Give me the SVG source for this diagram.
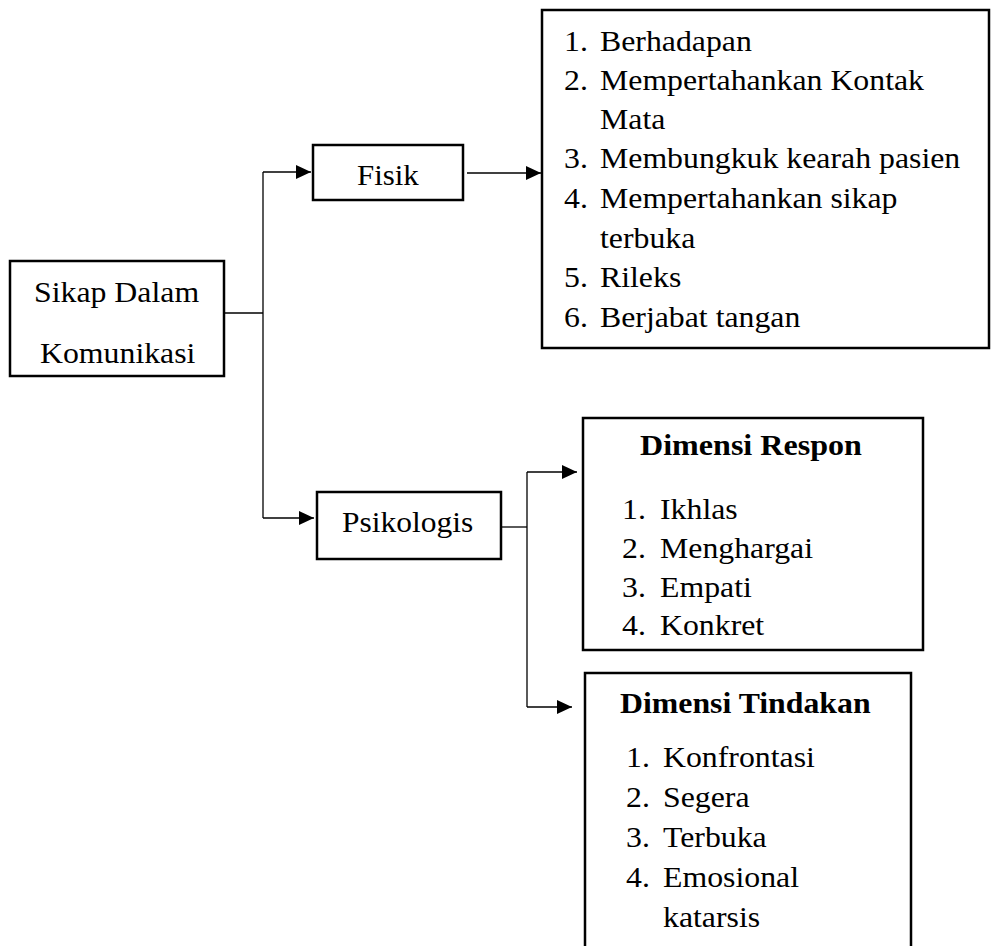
<svg xmlns="http://www.w3.org/2000/svg" width="991" height="946" viewBox="0 0 991 946">
<style>
.box{fill:#fff;stroke:#000;stroke-width:2.5}
.con{fill:none;stroke:#000;stroke-width:1.3}
</style>
<defs>
<marker id="ah" markerWidth="15" markerHeight="14" refX="15" refY="7" orient="auto" markerUnits="userSpaceOnUse">
<path d="M0,0 L15,7 L0,14 Z" fill="#000"/>
</marker>
</defs>
<rect width="991" height="946" fill="#fff"/>
<g id="connectors">
<path class="con" d="M224,313 H263"/>
<path class="con" d="M263,172 V518"/>
<path class="con" d="M263,172 H311" marker-end="url(#ah)"/>
<path class="con" d="M263,518 H314" marker-end="url(#ah)"/>
<path class="con" d="M467,173 H541" marker-end="url(#ah)"/>
<path class="con" d="M502,527 H527"/>
<path class="con" d="M527,472 V707"/>
<path class="con" d="M527,472 H577" marker-end="url(#ah)"/>
<path class="con" d="M527,707 H572" marker-end="url(#ah)"/>
</g>
<g id="sikap">
<rect class="box" x="10" y="261" width="214" height="115"/>
<text font-family="Liberation Serif" font-size="30" transform="translate(34,302) scale(1.06,1)">Sikap Dalam</text>
<text font-family="Liberation Serif" font-size="30" transform="translate(40,363) scale(1.06,1)">Komunikasi</text>
</g>
<g id="fisik">
<rect class="box" x="313" y="145" width="150" height="55"/>
<text font-family="Liberation Serif" font-size="30" transform="translate(357,185) scale(1.03,1)">Fisik</text>
</g>
<g id="fisik-list">
<rect class="box" x="542" y="10" width="447" height="338"/>
<text font-family="Liberation Serif" font-size="30" transform="translate(564,51) scale(1.06,1)">1.</text>
<text font-family="Liberation Serif" font-size="30" transform="translate(600,51) scale(1.06,1)">Berhadapan</text>
<text font-family="Liberation Serif" font-size="30" transform="translate(564,90) scale(1.06,1)">2.</text>
<text font-family="Liberation Serif" font-size="30" transform="translate(600,90) scale(1.06,1)">Mempertahankan Kontak</text>
<text font-family="Liberation Serif" font-size="30" transform="translate(600,129) scale(1.06,1)">Mata</text>
<text font-family="Liberation Serif" font-size="30" transform="translate(564,168) scale(1.06,1)">3.</text>
<text font-family="Liberation Serif" font-size="30" transform="translate(600,168) scale(1.06,1)">Membungkuk kearah pasien</text>
<text font-family="Liberation Serif" font-size="30" transform="translate(564,208) scale(1.06,1)">4.</text>
<text font-family="Liberation Serif" font-size="30" transform="translate(600,208) scale(1.06,1)">Mempertahankan sikap</text>
<text font-family="Liberation Serif" font-size="30" transform="translate(600,248) scale(1.06,1)">terbuka</text>
<text font-family="Liberation Serif" font-size="30" transform="translate(564,287) scale(1.06,1)">5.</text>
<text font-family="Liberation Serif" font-size="30" transform="translate(600,287) scale(1.06,1)">Rileks</text>
<text font-family="Liberation Serif" font-size="30" transform="translate(564,327) scale(1.06,1)">6.</text>
<text font-family="Liberation Serif" font-size="30" transform="translate(600,327) scale(1.06,1)">Berjabat tangan</text>
</g>
<g id="psikologis">
<rect class="box" x="317" y="492" width="184" height="67"/>
<text font-family="Liberation Serif" font-size="30" transform="translate(342,532) scale(1.05,1)">Psikologis</text>
</g>
<g id="dimensi-respon">
<rect class="box" x="583" y="418" width="340" height="232"/>
<text font-family="Liberation Serif" font-size="30" font-weight="bold" transform="translate(640,455) scale(1.07,1)">Dimensi Respon</text>
<text font-family="Liberation Serif" font-size="30" transform="translate(622,519) scale(1.06,1)">1.</text>
<text font-family="Liberation Serif" font-size="30" transform="translate(660,519) scale(1.06,1)">Ikhlas</text>
<text font-family="Liberation Serif" font-size="30" transform="translate(622,558) scale(1.06,1)">2.</text>
<text font-family="Liberation Serif" font-size="30" transform="translate(660,558) scale(1.06,1)">Menghargai</text>
<text font-family="Liberation Serif" font-size="30" transform="translate(622,597) scale(1.06,1)">3.</text>
<text font-family="Liberation Serif" font-size="30" transform="translate(660,597) scale(1.06,1)">Empati</text>
<text font-family="Liberation Serif" font-size="30" transform="translate(622,635) scale(1.06,1)">4.</text>
<text font-family="Liberation Serif" font-size="30" transform="translate(660,635) scale(1.06,1)">Konkret</text>
</g>
<g id="dimensi-tindakan">
<rect class="box" x="585" y="673" width="326" height="290"/>
<text font-family="Liberation Serif" font-size="30" font-weight="bold" transform="translate(620,713) scale(1.06,1)">Dimensi Tindakan</text>
<text font-family="Liberation Serif" font-size="30" transform="translate(626,767) scale(1.06,1)">1.</text>
<text font-family="Liberation Serif" font-size="30" transform="translate(663,767) scale(1.06,1)">Konfrontasi</text>
<text font-family="Liberation Serif" font-size="30" transform="translate(626,807) scale(1.06,1)">2.</text>
<text font-family="Liberation Serif" font-size="30" transform="translate(663,807) scale(1.06,1)">Segera</text>
<text font-family="Liberation Serif" font-size="30" transform="translate(626,847) scale(1.06,1)">3.</text>
<text font-family="Liberation Serif" font-size="30" transform="translate(663,847) scale(1.06,1)">Terbuka</text>
<text font-family="Liberation Serif" font-size="30" transform="translate(626,887) scale(1.06,1)">4.</text>
<text font-family="Liberation Serif" font-size="30" transform="translate(663,887) scale(1.06,1)">Emosional</text>
<text font-family="Liberation Serif" font-size="30" transform="translate(663,927) scale(1.06,1)">katarsis</text>
</g>
</svg>
